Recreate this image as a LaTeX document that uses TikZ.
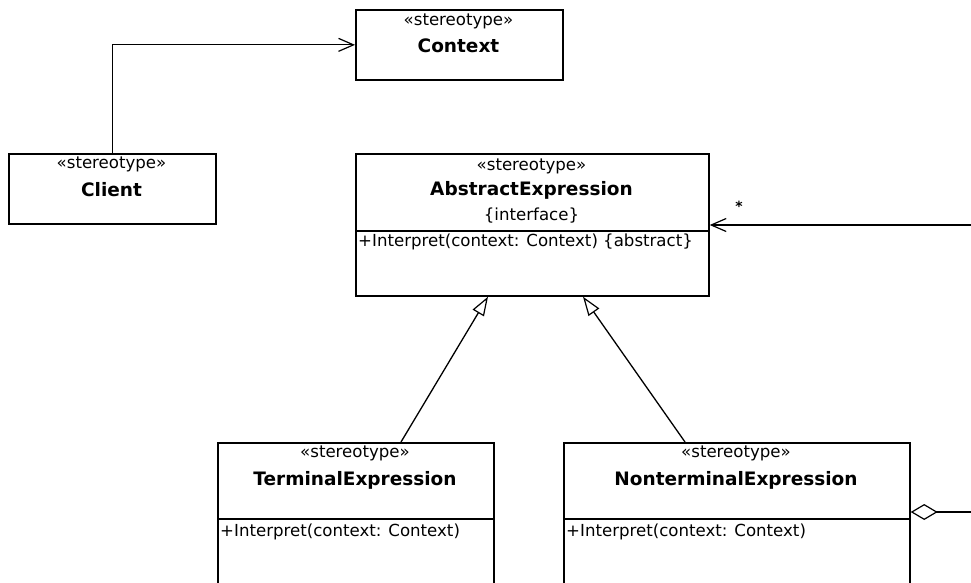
\documentclass[tikz,border=0pt]{standalone}
\usepackage{fontspec}
\setmainfont{DejaVu Sans}
\usetikzlibrary{arrows.meta}
\begin{document}
\begin{tikzpicture}[x=1pt,y=-1pt,
  classbox/.style={draw, line width=1.7pt, inner sep=0pt, anchor=north west},
  stereo/.style={font=\fontsize{16.6}{16.6}\selectfont, inner sep=0pt},
  cname/.style={font=\fontsize{18.5}{18.5}\selectfont\bfseries, inner sep=0pt},
  oper/.style={font=\fontsize{16.6}{16.6}\selectfont, inner sep=0pt, anchor=west},
  sepline/.style={line width=1.4pt},
  link/.style={line width=1.3pt},
  assoc/.style={link, -{Straight Barb[length=15pt, width=13pt, line width=1.2pt]}},
  general/.style={link, -{Triangle[open, length=19pt, width=13pt, line width=1.2pt]}},
  aggreg/.style={link, {Diamond[open, length=27pt, width=16pt, line width=1.2pt]}-}]
\useasboundingbox (0,0) rectangle (971,583);
\clip (0,0) rectangle (971,583);

% class boxes
\node[classbox, minimum width=207pt, minimum height=70pt]  (client)  at (8,153)   {};
\node[classbox, minimum width=207pt, minimum height=70pt]  (context) at (355,9)   {};
\node[classbox, minimum width=353pt, minimum height=142pt] (abstr)   at (355,153) {};
\node[classbox, minimum width=276pt, minimum height=170pt] (term)    at (217,442) {};
\node[classbox, minimum width=346pt, minimum height=170pt] (nonterm) at (563,442) {};

% compartment separators
\draw[sepline] (abstr.west |- 0,231) -- (abstr.east |- 0,231);
\draw[sepline] (term.west |- 0,519) -- (term.east |- 0,519);
\draw[sepline] (nonterm.west |- 0,519) -- (nonterm.east |- 0,519);

% Client
\node[stereo] (clientSt) at (111.5,164) {«stereotype»};
\node[cname]  (clientNm) at (111.5,190) {Client};

% Context
\node[stereo] (contextSt) at (458.5,21) {«stereotype»};
\node[cname]  (contextNm) at (458.5,46) {Context};

% AbstractExpression
\node[stereo] (abstrSt) at (531.5,166) {«stereotype»};
\node[cname]  (abstrNm) at (531.5,190) {AbstractExpression};
\node[stereo] (abstrIf) at (531.5,216) {\{interface\}};
\node[oper]   (abstrOp) at (358,242) {+Interpret(context: Context) \{abstract\}};

% TerminalExpression
\node[stereo] (termSt) at (355,453) {«stereotype»};
\node[cname]  (termNm) at (355,480) {TerminalExpression};
\node[oper]   (termOp) at (220,532) {+Interpret(context: Context)};

% NonterminalExpression
\node[stereo] (nontermSt) at (736,453) {«stereotype»};
\node[cname]  (nontermNm) at (736,480) {NonterminalExpression};
\node[oper]   (nontermOp) at (566,532) {+Interpret(context: Context)};

% free ends running off the right border
\coordinate (childrenIn)  at (971,225);
\coordinate (childrenOut) at (971,512);

% connectors
\draw[assoc] (client.north) |- (context.west);
\draw[assoc] (childrenIn) -- (abstr.east |- childrenIn);
\node[font=\fontsize{14}{14}\selectfont\bfseries, inner sep=0pt] (mult) at (739,206) {*};
\draw[general] (term.north -| 401,0) -- (abstr.south -| 488,0);
\draw[general] (nonterm.north -| 685,0) -- (abstr.south -| 583,0);
\draw[aggreg] (nonterm.east |- childrenOut) -- (childrenOut);
\end{tikzpicture}
\end{document}
